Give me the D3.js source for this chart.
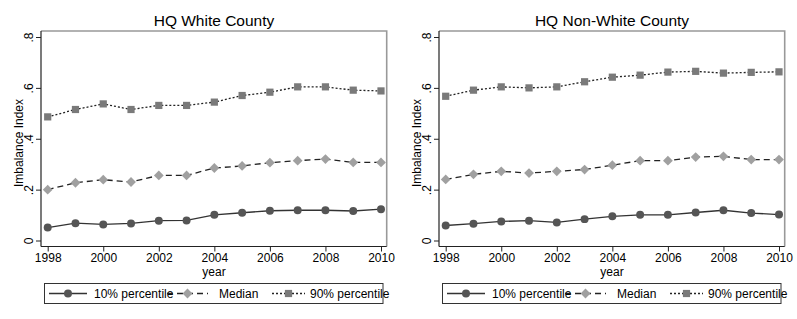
<!DOCTYPE html>
<html>
<head>
<meta charset="utf-8">
<script src="https://cdn.jsdelivr.net/npm/d3@7"></script>
<style>
  body { margin: 0; background: #fff; }
  text { font-family: "Liberation Sans", Arial, sans-serif; fill: #000; }
</style>
</head>
<body>
<svg id="chart"></svg>
<script>
// data
const years = [1998, 1999, 2000, 2001, 2002, 2003, 2004, 2005, 2006, 2007, 2008, 2009, 2010];
const panelTitles = ["HQ White County", "HQ Non-White County"];

const whiteP10 = [0.051, 0.068, 0.063, 0.067, 0.078, 0.079, 0.101, 0.109, 0.117, 0.119, 0.119, 0.116, 0.123];
const whiteMed = [0.200, 0.227, 0.239, 0.230, 0.256, 0.256, 0.285, 0.293, 0.306, 0.314, 0.320, 0.307, 0.307];
const whiteP90 = [0.486, 0.515, 0.537, 0.515, 0.531, 0.531, 0.544, 0.570, 0.583, 0.604, 0.604, 0.591, 0.588];

const nonWhiteP10 = [0.059, 0.066, 0.075, 0.078, 0.071, 0.084, 0.095, 0.101, 0.101, 0.110, 0.119, 0.108, 0.102];
const nonWhiteMed = [0.240, 0.260, 0.272, 0.265, 0.272, 0.279, 0.296, 0.314, 0.314, 0.328, 0.331, 0.318, 0.318];
const nonWhiteP90 = [0.567, 0.591, 0.604, 0.600, 0.604, 0.624, 0.642, 0.650, 0.662, 0.665, 0.658, 0.661, 0.663];

const xTicks = [1998, 2000, 2002, 2004, 2006, 2008, 2010];
const yTicks = [0, 0.2, 0.4, 0.6, 0.8];
const seriesNames = ["10% percentile", "Median", "90% percentile"];

const W = 797, H = 319;
const FONT = "'Liberation Sans', Arial, sans-serif";
const svg = d3.select("#chart").attr("width", W).attr("height", H);

// series styles (diamond = square turned 45deg)
const styles = [
  { stroke: "#333", dash: null, fill: "#555", shape: d3.symbolCircle, size: 50, rot: 0 },
  { stroke: "#222", dash: "6,4", fill: "#a0a0a0", shape: d3.symbolSquare, size: 48, rot: 45 },
  { stroke: "#222", dash: "2,2", fill: "#7a7a7a", shape: d3.symbolSquare, size: 52, rot: 0 }
];

const panels = [
  [whiteP10, whiteMed, whiteP90],
  [nonWhiteP10, nonWhiteMed, nonWhiteP90]
];

const fmt = v => v === 0 ? "0" : d3.format(".1f")(v).replace(/^0/, "");

panels.forEach((series, p) => {
  const off = p * 398;
  const g = svg.append("g").attr("transform", `translate(${off},0)`);

  const x = d3.scaleLinear().domain([1998, 2010]).range([47.7, 381]);
  const y = d3.scaleLinear().domain([0, 0.8]).range([240.5, 37]);

  // plot region outline (top/right light)
  g.append("path")
    .attr("d", "M41,31H386.7V246.5")
    .attr("fill", "none")
    .attr("stroke", "#999")
    .attr("stroke-width", 1.6);

  // y axis
  const yAxis = g.append("g").attr("transform", "translate(41,0)")
    .call(d3.axisLeft(y).tickValues(yTicks).tickSize(5).tickFormat(fmt));
  yAxis.select(".domain").attr("d", "M0,31V246.5").attr("stroke", "#222").attr("stroke-width", 1.2);
  yAxis.selectAll(".tick line").attr("stroke", "#222");
  yAxis.selectAll(".tick text")
    .attr("x", null).attr("dy", null)
    .attr("transform", "translate(-8,0) rotate(-90)")
    .attr("text-anchor", "middle")
    .attr("font-size", 12)
    .attr("font-family", FONT);

  // x axis
  const xAxis = g.append("g").attr("transform", "translate(0,246.5)")
    .call(d3.axisBottom(x).tickValues(xTicks).tickSize(5).tickFormat(d3.format("d")));
  xAxis.select(".domain").attr("d", "M41,0H386.7").attr("stroke", "#222").attr("stroke-width", 1.2);
  xAxis.selectAll(".tick line").attr("stroke", "#222");
  xAxis.selectAll(".tick text")
    .attr("y", 7)
    .attr("font-size", 12)
    .attr("font-family", FONT);

  // titles
  g.append("text").attr("x", 214).attr("y", 26).attr("text-anchor", "middle")
    .attr("font-size", 15.5).text(panelTitles[p]);
  g.append("text").attr("x", 214).attr("y", 276).attr("text-anchor", "middle")
    .attr("font-size", 12).text("year");
  g.append("text").attr("transform", "translate(22.5,143) rotate(-90)")
    .attr("text-anchor", "middle").attr("font-size", 12).text("Imbalance Index");

  // lines + markers
  const line = d3.line().x((d, i) => x(years[i])).y(d => y(d));
  series.forEach((vals, s) => {
    const st = styles[s];
    g.append("path")
      .datum(vals)
      .attr("d", line)
      .attr("fill", "none")
      .attr("stroke", st.stroke)
      .attr("stroke-width", 1.3)
      .attr("stroke-dasharray", st.dash);
    g.selectAll(".m" + s)
      .data(vals)
      .enter()
      .append("path")
      .attr("class", "m" + s)
      .attr("transform", (d, i) => `translate(${x(years[i])},${y(d)}) rotate(${st.rot})`)
      .attr("d", d3.symbol().type(st.shape).size(st.size))
      .attr("fill", st.fill);
  });

  // legend
  const lg = g.append("g");
  lg.append("rect").attr("x", 44.5).attr("y", 283.5).attr("width", 338.5).attr("height", 20)
    .attr("fill", "#fff").attr("stroke", "#333").attr("stroke-width", 1);
  const keys = [
    { x0: 49, x1: 87, tx: 94 },
    { x0: 167, x1: 208, tx: 219 },
    { x0: 272, x1: 305, tx: 310 }
  ];
  keys.forEach((k, s) => {
    const st = styles[s];
    lg.append("line").attr("x1", k.x0).attr("x2", k.x1).attr("y1", 293.5).attr("y2", 293.5)
      .attr("stroke", st.stroke).attr("stroke-width", 1.3).attr("stroke-dasharray", st.dash);
    lg.append("path")
      .attr("transform", `translate(${(k.x0 + k.x1) / 2},293.5) rotate(${st.rot})`)
      .attr("d", d3.symbol().type(st.shape).size(st.size))
      .attr("fill", st.fill);
    lg.append("text").attr("x", k.tx).attr("y", 298).attr("font-size", 12).text(seriesNames[s]);
  });
});
</script>
</body>
</html>
